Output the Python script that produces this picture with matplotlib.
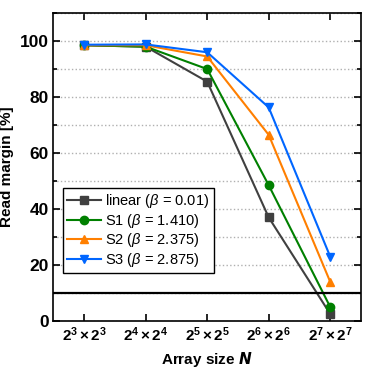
import matplotlib
matplotlib.use("Agg")
import matplotlib.pyplot as plt
from matplotlib.ticker import MultipleLocator

sizes = [r"$\mathbf{2^3\times2^3}$", r"$\mathbf{2^4\times2^4}$", r"$\mathbf{2^5\times2^5}$",
         r"$\mathbf{2^6\times2^6}$", r"$\mathbf{2^7\times2^7}$"]
linear = [98.5, 98.0, 85.5, 37.0, 2.5]
s1 = [98.5, 98.0, 90.0, 48.5, 5.0]
s2 = [98.5, 98.5, 94.5, 66.5, 14.0]
s3 = [98.7, 98.8, 96.0, 76.3, 23.0]
threshold = 10

series = [
    ("linear ($\\beta$ = 0.01)", linear, "#404040", "s"),
    ("S1 ($\\beta$ = 1.410)", s1, "#008000", "o"),
    ("S2 ($\\beta$ = 2.375)", s2, "#ff7f00", "^"),
    ("S3 ($\\beta$ = 2.875)", s3, "#0066ff", "v"),
]

plt.rcParams.update({
    "font.family": ["Liberation Sans", "DejaVu Sans"],
    "mathtext.fontset": "custom",
    "mathtext.rm": "Liberation Sans",
    "mathtext.it": "Liberation Sans:italic",
    "mathtext.bf": "Liberation Sans:bold",
})

fig = plt.figure(figsize=(3.74, 3.74), dpi=100)
ax = fig.add_axes([0.143, 0.142, 0.822, 0.823])

x = list(range(len(sizes)))
for label, vals, color, marker in series:
    ax.plot(x, vals, color=color, marker=marker, markersize=6, linewidth=1.5, label=label)

ax.axhline(threshold, color="black", linewidth=1.6)

ax.set_xlim(-0.5, 4.5)
ax.set_ylim(0, 110)
ax.set_xticks(x)
ax.set_xticklabels(sizes, fontsize=11)
ax.yaxis.set_major_locator(MultipleLocator(20))
ax.yaxis.set_minor_locator(MultipleLocator(10))
for lab in ax.get_yticklabels():
    lab.set_fontweight("bold")
    lab.set_fontsize(12.5)
ax.grid(True, which="both", axis="y", linestyle=":", color="#b0b0b0", linewidth=1)
ax.set_axisbelow(True)
ax.tick_params(which="both", direction="in", top=True, right=True, width=1.2)
ax.tick_params(which="major", length=5)
ax.tick_params(which="minor", length=3)
for sp in ax.spines.values():
    sp.set_linewidth(1.2)

ax.set_xlabel(r"Array size $\mathbfit{N}$", fontsize=11, fontweight="bold")
ax.set_ylabel("Read margin [%]", fontsize=11, fontweight="bold")

ax.legend(loc="lower left", bbox_to_anchor=(0.03, 0.155), fontsize=10.5, frameon=True,
          fancybox=False, edgecolor="black", framealpha=1, handlelength=2.3,
          borderpad=0.3, labelspacing=0.1, handletextpad=0.3, borderaxespad=0)

fig.savefig("out.png", dpi=100)
